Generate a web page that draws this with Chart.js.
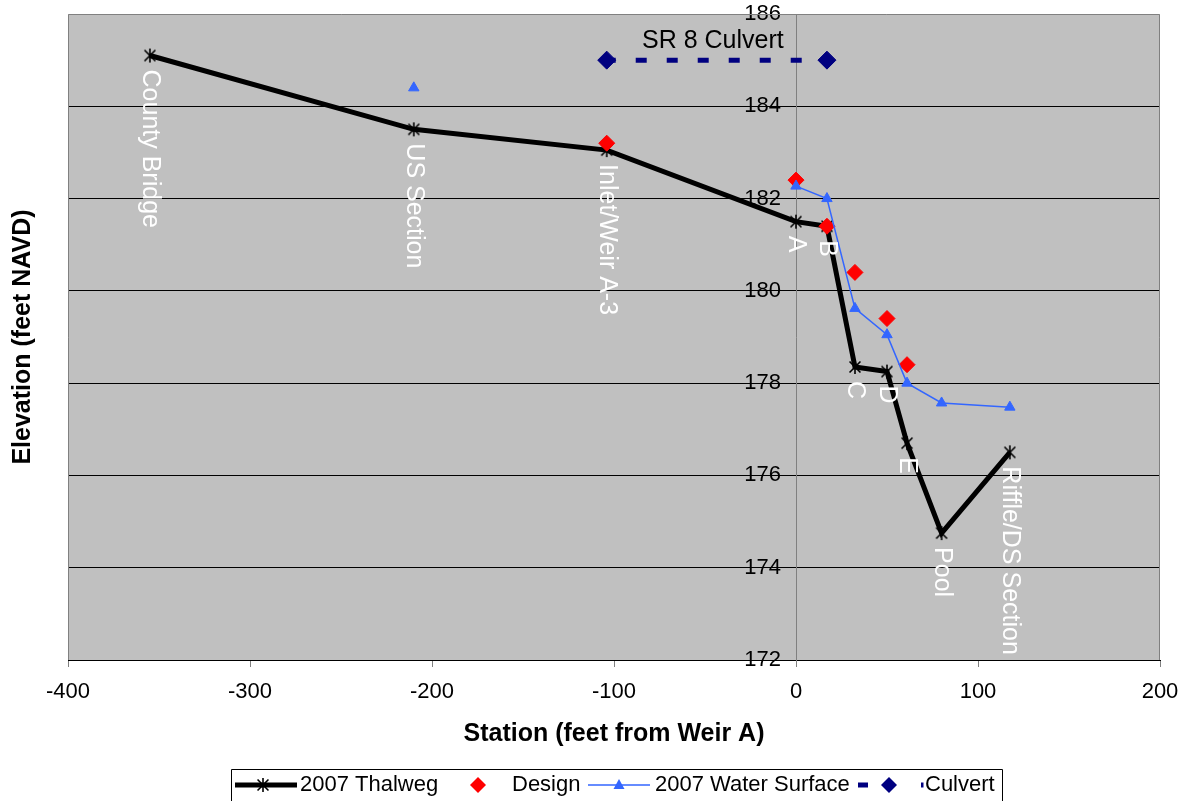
<!DOCTYPE html>
<html>
<head>
<meta charset="utf-8">
<script src="https://cdn.jsdelivr.net/npm/chart.js@4/dist/chart.umd.min.js"></script>
<style>
  body { margin: 0; background: #fff; }
  #wrap { width: 1189px; height: 801px; }
</style>
</head>
<body>
<div id="wrap"><canvas id="profile" width="1189" height="801"></canvas></div>
<script>
// survey stations (feet from Weir A) and elevations (feet NAVD)
const stations = [-355, -210, -104, 0, 17, 32.4, 50, 61, 80, 117.5];
const stationNames = ['County Bridge', 'US Section', 'Inlet/Weir A-3', 'A', 'B', 'C', 'D', 'E', 'Pool', 'Riffle/DS Section'];
const thalweg2007 = [185.1, 183.5, 183.05, 181.5, 181.4, 178.35, 178.25, 176.7, 174.75, 176.5];
const design = [null, null, 183.2, 182.4, 181.4, 180.4, 179.4, 178.4, null, null];
const waterSurface2007 = [null, 184.4, null, 182.27, 182.0, 179.62, 179.05, 178.0, 177.57, 177.48];
const culvertStations = [-104, 17];
const culvertElev = [185, 185];
const culvertName = 'SR 8 Culvert';
const seriesNames = ['2007 Thalweg', 'Design', '2007 Water Surface', 'Culvert'];

const FONT = "'Liberation Sans', Arial, sans-serif";
const NAVY = '#000080';
const BLUE = '#3366ff';
const RED = '#ff0000';

function pts(xs, ys) {
  return xs.map((x, i) => ({ x: x, y: ys[i] }));
}

// Excel-style asterisk marker: vertical bar plus an X
function makeStar(size) {
  const c = document.createElement('canvas');
  c.width = size; c.height = size;
  const g = c.getContext('2d');
  const m = size / 2, r = size / 2 - 1, d = r * 0.78;
  g.strokeStyle = '#000';
  g.lineWidth = 1.6;
  g.beginPath();
  g.moveTo(m, m - r); g.lineTo(m, m + r);
  g.moveTo(m - d, m - d); g.lineTo(m + d, m + d);
  g.moveTo(m + d, m - d); g.lineTo(m - d, m + d);
  g.stroke();
  return c;
}
const star = makeStar(16);

function diamond(ctx, x, y, r, color) {
  ctx.fillStyle = color;
  ctx.beginPath();
  ctx.moveTo(x, y - r); ctx.lineTo(x + r, y); ctx.lineTo(x, y + r); ctx.lineTo(x - r, y);
  ctx.closePath();
  ctx.fill();
}

const profileDecor = {
  id: 'profileDecor',
  beforeDraw(chart) {
    const { ctx, chartArea: a } = chart;
    ctx.save();
    ctx.fillStyle = '#c0c0c0';
    ctx.fillRect(a.left, a.top, a.right - a.left, a.bottom - a.top);
    ctx.restore();
    // the y axis sits at station 0, keep its numbers clear of the axis line
    const ys = chart.scales.y;
    ys.getLabelItems().forEach((it) => {
      if (!it.moved) {
        it.options.translation[0] -= 15;
        it.moved = true;
      }
    });
  },
  beforeDatasetsDraw(chart) {
    const { ctx, chartArea: a } = chart;
    ctx.save();
    ctx.strokeStyle = '#808080';
    ctx.lineWidth = 1;
    ctx.beginPath();
    ctx.moveTo(a.left + 0.5, a.bottom);
    ctx.lineTo(a.left + 0.5, a.top + 0.5);
    ctx.lineTo(a.right - 0.5, a.top + 0.5);
    ctx.lineTo(a.right - 0.5, a.bottom);
    ctx.stroke();
    ctx.restore();
  },
  afterDatasetsDraw(chart) {
    const { ctx } = chart;
    ctx.save();
    // station names under the thalweg points
    const tw = chart.getDatasetMeta(0).data;
    ctx.fillStyle = '#fff';
    ctx.font = '25px ' + FONT;
    ctx.textAlign = 'left';
    ctx.textBaseline = 'middle';
    tw.forEach((p, i) => {
      ctx.save();
      ctx.translate(p.x, p.y);
      ctx.rotate(Math.PI / 2);
      ctx.fillText(stationNames[i], 14, 0);
      ctx.restore();
    });
    // culvert caption
    const cv = chart.getDatasetMeta(3).data;
    ctx.fillStyle = '#000';
    ctx.textAlign = 'center';
    ctx.fillText(culvertName, (cv[0].x + cv[1].x) / 2 - 4, cv[0].y - 19);
    ctx.restore();
  },
  afterDraw(chart) {
    const { ctx, chartArea: a } = chart;
    ctx.save();
    // y axis title
    ctx.fillStyle = '#000';
    ctx.font = 'bold 25px ' + FONT;
    ctx.textAlign = 'center';
    ctx.textBaseline = 'middle';
    ctx.translate(23, (a.top + a.bottom) / 2);
    ctx.rotate(-Math.PI / 2);
    ctx.fillText('Elevation (feet NAVD)', 0, 0);
    ctx.restore();

    // legend
    ctx.save();
    const ly = 785;
    ctx.strokeStyle = '#000';
    ctx.lineWidth = 1;
    ctx.beginPath();
    ctx.moveTo(231.5, 805); ctx.lineTo(231.5, 769.5); ctx.lineTo(1002.5, 769.5); ctx.lineTo(1002.5, 805);
    ctx.stroke();

    ctx.lineWidth = 5;
    ctx.beginPath(); ctx.moveTo(235, ly); ctx.lineTo(297, ly); ctx.stroke();
    ctx.drawImage(star, 263 - 8, ly - 8);

    diamond(ctx, 478, ly, 8, RED);

    ctx.strokeStyle = BLUE;
    ctx.lineWidth = 1.5;
    ctx.beginPath(); ctx.moveTo(588, ly); ctx.lineTo(650, ly); ctx.stroke();
    ctx.fillStyle = BLUE;
    ctx.beginPath(); ctx.moveTo(619, ly - 6); ctx.lineTo(624.5, ly + 4); ctx.lineTo(613.5, ly + 4); ctx.closePath(); ctx.fill();

    ctx.fillStyle = NAVY;
    ctx.fillRect(858, ly - 2.5, 10, 5);
    diamond(ctx, 889, ly, 8, NAVY);
    ctx.fillRect(921, ly - 2.5, 2.5, 5);

    ctx.fillStyle = '#000';
    ctx.font = '22px ' + FONT;
    ctx.textAlign = 'left';
    ctx.textBaseline = 'middle';
    ctx.fillText(seriesNames[0], 300, ly);
    ctx.fillText(seriesNames[1], 512, ly);
    ctx.fillText(seriesNames[2], 655, ly);
    ctx.fillText(seriesNames[3], 925, ly);
    ctx.restore();
  }
};

new Chart(document.getElementById('profile'), {
  type: 'line',
  data: {
    datasets: [
      {
        label: seriesNames[0],
        data: pts(stations, thalweg2007),
        borderColor: '#000',
        borderWidth: 5,
        pointStyle: star,
        pointRadius: 8,
        tension: 0,
        order: 4
      },
      {
        label: seriesNames[1],
        data: pts(stations, design),
        showLine: false,
        pointStyle: 'rectRot',
        pointRadius: 8,
        pointBackgroundColor: RED,
        pointBorderColor: RED,
        pointBorderWidth: 1,
        order: 3
      },
      {
        label: seriesNames[2],
        data: pts(stations, waterSurface2007),
        borderColor: BLUE,
        borderWidth: 1.5,
        pointStyle: 'triangle',
        pointRadius: 6,
        pointBackgroundColor: BLUE,
        pointBorderColor: BLUE,
        pointBorderWidth: 1,
        spanGaps: false,
        tension: 0,
        order: 2
      },
      {
        label: seriesNames[3],
        data: pts(culvertStations, culvertElev),
        borderColor: NAVY,
        borderWidth: 5,
        borderDash: [11, 20],
        borderDashOffset: 2,
        pointStyle: 'rectRot',
        pointRadius: 9,
        pointBackgroundColor: NAVY,
        pointBorderColor: NAVY,
        pointBorderWidth: 1,
        tension: 0,
        order: 1
      }
    ]
  },
  options: {
    responsive: false,
    animation: false,
    events: [],
    layout: { padding: { left: 68, right: 29, top: 14, bottom: 0 } },
    plugins: {
      legend: { display: false },
      tooltip: { enabled: false }
    },
    scales: {
      x: {
        type: 'linear',
        min: -400,
        max: 200,
        ticks: { stepSize: 100, color: '#000', font: { family: FONT, size: 22 }, padding: 12, maxRotation: 0 },
        grid: { drawOnChartArea: false, tickLength: 7, color: '#000', tickColor: '#808080' },
        border: { color: '#000', width: 1 },
        title: {
          display: true,
          text: 'Station (feet from Weir A)',
          color: '#000',
          font: { family: FONT, size: 25, weight: 'bold' },
          padding: { top: 0, bottom: 52 }
        },
        afterFit(scale) {
          scale.height = 141;
          scale.paddingLeft = 0;
          scale.paddingRight = 0;
        }
      },
      y: {
        type: 'linear',
        min: 172,
        max: 186,
        position: { x: 0 },
        ticks: { stepSize: 2, color: '#000', font: { family: FONT, size: 22 }, padding: 8 },
        grid: {
          color: (c) => (c.tick && c.tick.value === 186 ? 'rgba(0,0,0,0)' : '#000'),
          tickColor: '#000',
          tickLength: 7
        },
        border: { color: '#808080', width: 1 },
        afterFit(scale) {
          scale.paddingTop = 0;
          scale.paddingBottom = 0;
        }
      }
    }
  },
  plugins: [profileDecor]
});
</script>
</body>
</html>
